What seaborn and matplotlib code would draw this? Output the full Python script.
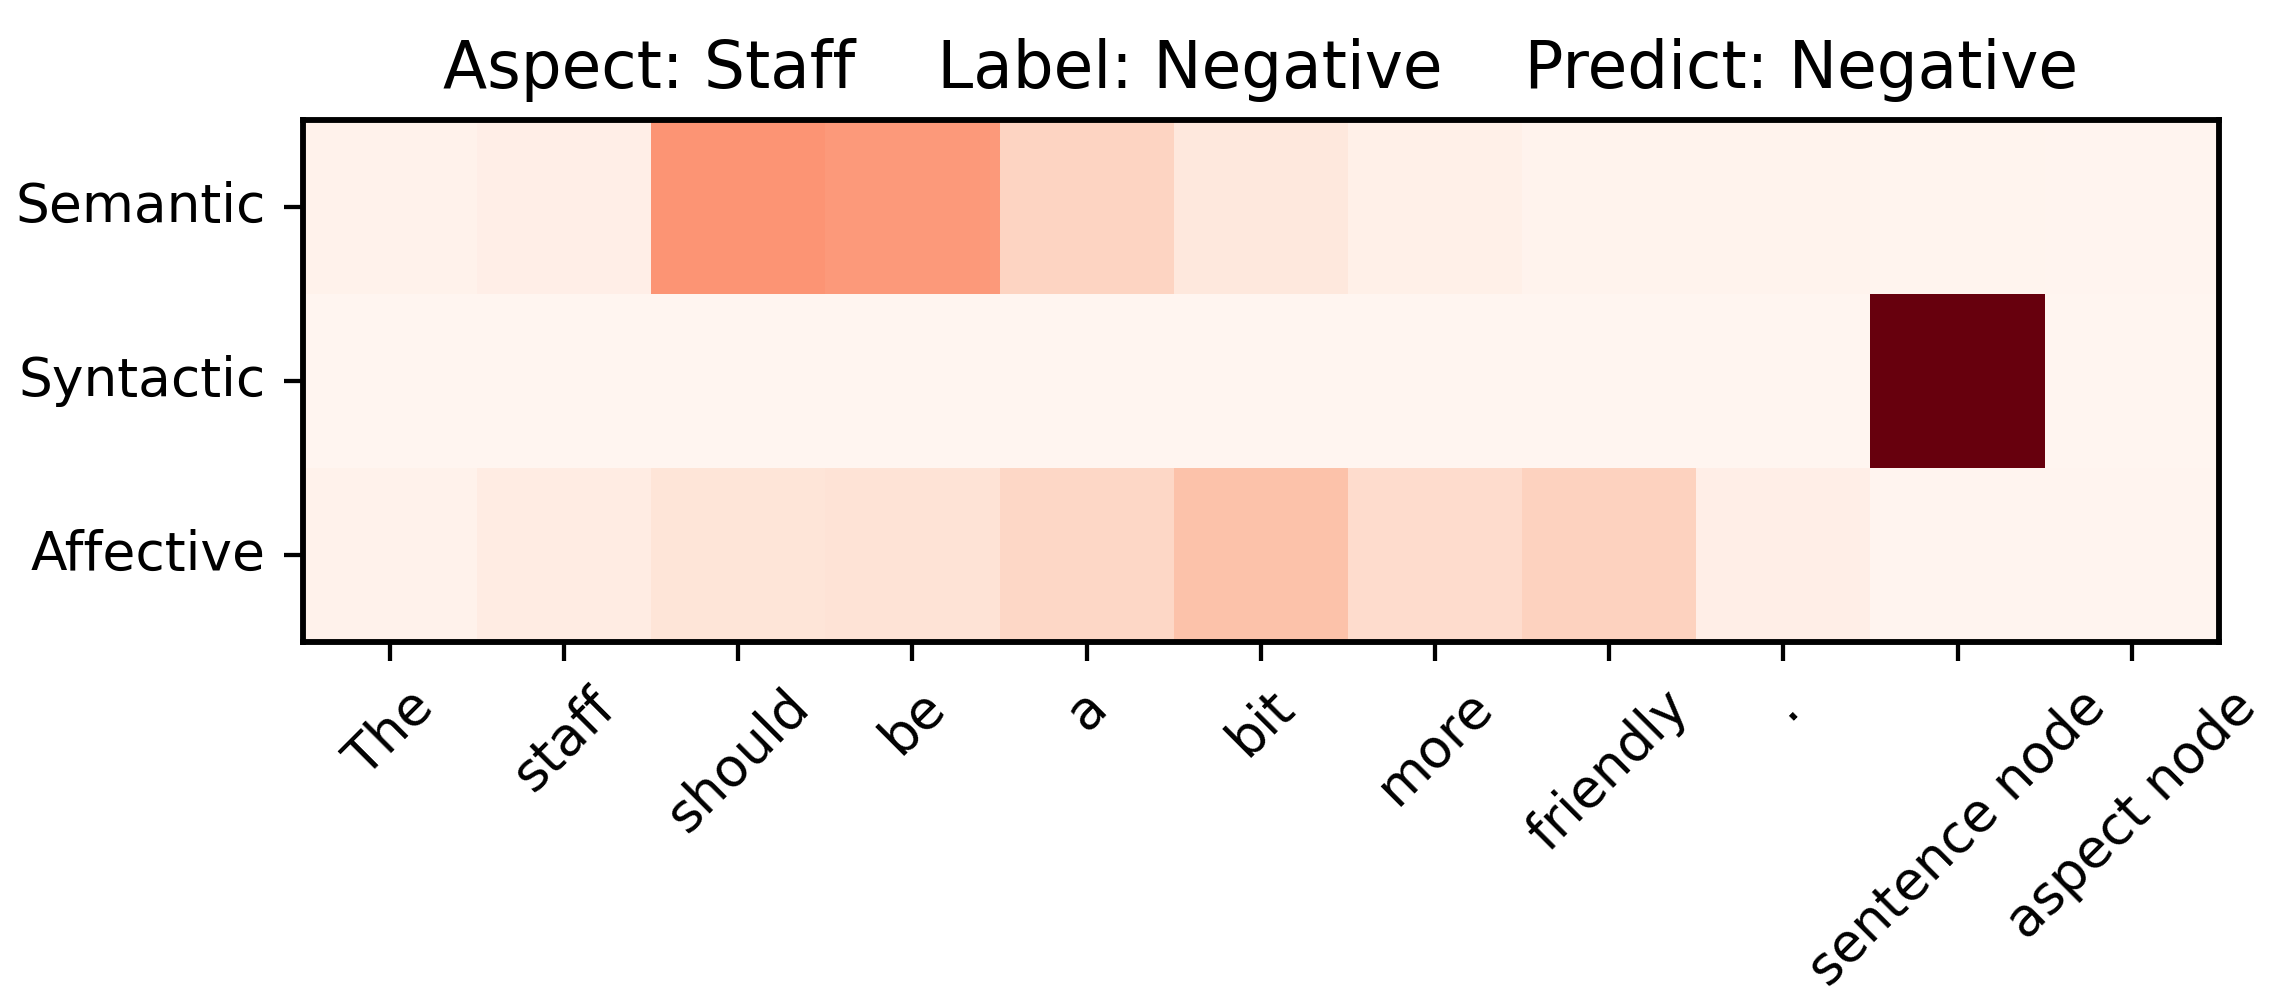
"""
Attention heatmap: Semantic / Syntactic / Affective weights per token
"""
import numpy as np
import pandas as pd
import matplotlib
matplotlib.use('Agg')
import matplotlib.pyplot as plt
import seaborn as sns

# ==================== data ====================
tokens = ['The', 'staff', 'should', 'be', 'a', 'bit', 'more', 'friendly', '.',
          'sentence node', 'aspect node']
channels = ['Semantic', 'Syntactic', 'Affective']

semantic = [0.02, 0.04, 0.37, 0.355, 0.165, 0.08, 0.035, 0.015, 0.015, 0.01, 0.005]
syntactic = [0.0, 0.0, 0.0, 0.0, 0.0, 0.0, 0.0, 0.0, 0.0, 1.0, 0.0]
affective = [0.02, 0.055, 0.10, 0.11, 0.16, 0.23, 0.14, 0.175, 0.04, 0.005, 0.005]

title = 'Aspect: Staff    Label: Negative    Predict: Negative'

df = pd.DataFrame([semantic, syntactic, affective], index=channels, columns=tokens)

# ==================== plot ====================
dpi = 384
fig = plt.figure(figsize=(2283 / dpi, 1008 / dpi), dpi=dpi)
ax = fig.add_axes([0.1325, 0.3626, 0.8395, 0.5184])

sns.heatmap(df, cmap='Reds', vmin=0, vmax=1, square=True, cbar=False,
            linewidths=0, ax=ax)

# 热图默认去掉了边框，这里加回来
for s in ax.spines.values():
    s.set_visible(True)
    s.set_linewidth(1.1)
    s.set_color('black')

ax.tick_params(length=3.5, width=0.8)
ax.set_xticklabels(tokens, rotation=45, ha='center')
ax.set_yticklabels(channels, rotation=0)
ax.set_xlabel('')
ax.set_ylabel('')
ax.set_title(title, fontsize=12.1)

fig.savefig('out.png', dpi=dpi)
plt.close(fig)
